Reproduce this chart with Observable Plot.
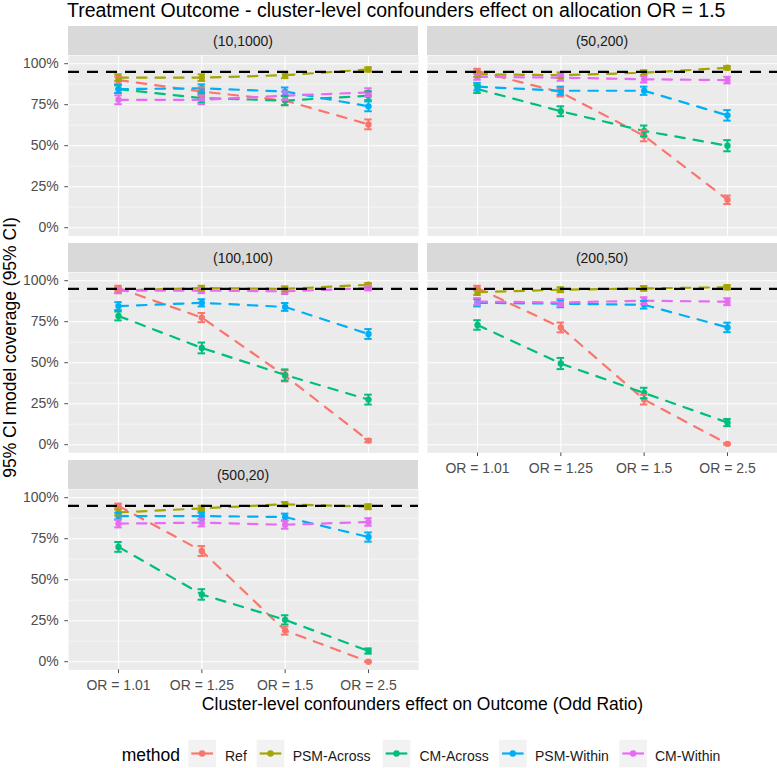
<!DOCTYPE html>
<html><head><meta charset="utf-8">
<script src="https://cdn.jsdelivr.net/npm/d3@7"></script>
<script src="https://cdn.jsdelivr.net/npm/@observablehq/plot@0.6"></script>
<style>
body{margin:0;background:#fff;}
#root{position:relative;width:777px;height:768px;overflow:hidden;font-family:"Liberation Sans",Arial,sans-serif;}
#root svg{position:absolute;overflow:visible;}
</style></head><body><div id="root"></div>
<script>
// ---- data ----
const categories = ["OR = 1.01", "OR = 1.25", "OR = 1.5", "OR = 2.5"];
const methods = ["Ref", "PSM-Across", "CM-Across", "PSM-Within", "CM-Within"];
const colors = ["#F8766D", "#A3A500", "#00BF7D", "#00B0F6", "#E76BF3"];
const panels = ["(10,1000)", "(50,200)", "(100,100)", "(200,50)", "(500,20)"];
const yBreaks = [0, 0.25, 0.5, 0.75, 1];
const yMinor = [0.125, 0.375, 0.625, 0.875];
const refLine = 0.95;

// coverage, rows = methods (Ref, PSM-Across, CM-Across, PSM-Within, CM-Within), cols = categories
const cov10_1000 = [
  [0.90, 0.83, 0.775, 0.63],
  [0.915, 0.915, 0.93, 0.965],
  [0.845, 0.79, 0.775, 0.805],
  [0.845, 0.85, 0.83, 0.74],
  [0.78, 0.78, 0.805, 0.825]
];
const cov50_200 = [
  [0.955, 0.825, 0.56, 0.17],
  [0.935, 0.93, 0.945, 0.975],
  [0.845, 0.71, 0.59, 0.50],
  [0.86, 0.835, 0.835, 0.685],
  [0.92, 0.915, 0.905, 0.90]
];
const cov100_100 = [
  [0.955, 0.775, 0.42, 0.025],
  [0.94, 0.955, 0.95, 0.975],
  [0.785, 0.59, 0.425, 0.275],
  [0.845, 0.865, 0.84, 0.675],
  [0.94, 0.94, 0.935, 0.955]
];
const cov200_50 = [
  [0.955, 0.715, 0.275, 0.005],
  [0.93, 0.945, 0.953, 0.96],
  [0.73, 0.495, 0.315, 0.135],
  [0.865, 0.86, 0.853, 0.715],
  [0.873, 0.867, 0.878, 0.872]
];
const cov500_20 = [
  [0.95, 0.675, 0.19, 0.0],
  [0.91, 0.935, 0.96, 0.945],
  [0.70, 0.41, 0.255, 0.065],
  [0.888, 0.888, 0.882, 0.76],
  [0.842, 0.848, 0.835, 0.852]
];
// 95% CI half-widths
const err10_1000 = [
  [0.022, 0.025, 0.028, 0.03],
  [0.02, 0.02, 0.018, 0.013],
  [0.024, 0.027, 0.028, 0.027],
  [0.024, 0.024, 0.025, 0.03],
  [0.027, 0.027, 0.026, 0.025]
];
const err50_200 = [
  [0.014, 0.025, 0.033, 0.026],
  [0.016, 0.017, 0.015, 0.011],
  [0.024, 0.03, 0.033, 0.034],
  [0.023, 0.025, 0.025, 0.032],
  [0.018, 0.019, 0.02, 0.02]
];
const err100_100 = [
  [0.014, 0.028, 0.034, 0.01],
  [0.016, 0.014, 0.015, 0.011],
  [0.027, 0.033, 0.034, 0.03],
  [0.024, 0.022, 0.024, 0.03],
  [0.016, 0.016, 0.016, 0.014]
];
const err200_50 = [
  [0.014, 0.03, 0.03, 0.005],
  [0.017, 0.015, 0.014, 0.013],
  [0.029, 0.034, 0.032, 0.022],
  [0.022, 0.022, 0.023, 0.029],
  [0.021, 0.022, 0.021, 0.021]
];
const err500_20 = [
  [0.014, 0.03, 0.025, 0.0],
  [0.018, 0.016, 0.013, 0.015],
  [0.03, 0.032, 0.028, 0.016],
  [0.02, 0.02, 0.021, 0.028],
  [0.023, 0.023, 0.024, 0.023]
];
const coverage = [cov10_1000, cov50_200, cov100_100, cov200_50, cov500_20];
const errors = [err10_1000, err50_200, err100_100, err200_50, err500_20];

// ---- layout ----
const PW = 350, PH = 180.4, STRIP = 29;
const colLeft = [68, 427];
const rowTop = [55, 272, 489];
const capHalf = 0.045;
const root = document.getElementById("root");
const NS = "http://www.w3.org/2000/svg";

// overlay svg (title, strips, axis titles, legend)
const ov = document.createElementNS(NS, "svg");
ov.setAttribute("width", 777); ov.setAttribute("height", 768);
ov.style.left = "0px"; ov.style.top = "0px";
root.appendChild(ov);
function el(tag, attrs, text) {
  const e = document.createElementNS(NS, tag);
  for (const k in attrs) e.setAttribute(k, attrs[k]);
  if (text != null) e.textContent = text;
  ov.appendChild(e);
  return e;
}
el("text", {x: 67, y: 17, "font-size": 19.5, fill: "#000"}, "Treatment Outcome - cluster-level confounders effect on allocation OR = 1.5");

panels.forEach((p, k) => {
  const col = k % 2, row = Math.floor(k / 2);
  const x0 = colLeft[col], y0 = rowTop[row];
  el("rect", {x: x0, y: y0 - STRIP, width: PW, height: STRIP, fill: "#D9D9D9"});
  el("text", {x: x0 + PW / 2, y: y0 - STRIP / 2, "font-size": 14, fill: "#1A1A1A", "text-anchor": "middle", "dominant-baseline": "central"}, p);

  const rows = [];
  methods.forEach((m, mi) => categories.forEach((c, ci) => rows.push({method: m, i: ci, v: coverage[k][mi][ci], e: errors[k][mi][ci]})));
  const withY = col === 0;
  const withX = (row === 2) || (row === 1 && col === 1);
  const marks = [
    Plot.frame({fill: "#EBEBEB", stroke: "none"}),
    Plot.ruleY(yMinor, {stroke: "white", strokeWidth: 0.55}),
    Plot.ruleY(yBreaks, {stroke: "white", strokeWidth: 1.1}),
    Plot.ruleX(d3.range(categories.length), {stroke: "white", strokeWidth: 1.1}),
    Plot.line(rows, {x: "i", y: "v", z: "method", stroke: "method", strokeWidth: 2.2, strokeDasharray: "9.5,9"}),
    Plot.dot(rows, {x: "i", y: "v", fill: "method", r: 3.2}),
    Plot.ruleX(rows, {x: "i", y1: d => d.v - d.e, y2: d => d.v + d.e, stroke: "method", strokeWidth: 2}),
    Plot.ruleY(rows, {y: d => d.v - d.e, x1: d => d.i - capHalf, x2: d => d.i + capHalf, stroke: "method", strokeWidth: 2}),
    Plot.ruleY(rows, {y: d => d.v + d.e, x1: d => d.i - capHalf, x2: d => d.i + capHalf, stroke: "method", strokeWidth: 2}),
    Plot.ruleY([refLine], {stroke: "black", strokeWidth: 2.4, strokeDasharray: "11,8"})
  ];
  if (withY) marks.push(Plot.axisY({ticks: yBreaks, tickFormat: d3.format(".0%"), tickSize: 3.7, tickPadding: 6, fontSize: 14, color: "#4D4D4D", label: null}));
  if (withX) marks.push(Plot.axisX({ticks: d3.range(categories.length), tickFormat: i => categories[i], tickSize: 3.7, tickPadding: 6, fontSize: 14, color: "#4D4D4D", label: null}));
  const mb = withX ? 30 : 0;
  const ml = withY ? x0 : 0;
  const chart = Plot.plot({
    width: ml + PW, height: PH + mb,
    marginLeft: ml, marginRight: 0, marginTop: 0, marginBottom: mb,
    x: {type: "linear", domain: [-0.6, categories.length - 1 + 0.6], ...(withX ? {} : {axis: null})},
    y: {domain: [-0.05, 1.05], ...(withY ? {} : {axis: null})},
    color: {domain: methods, range: colors},
    style: {background: "transparent", overflow: "visible", fontFamily: "Liberation Sans, Arial, sans-serif"},
    marks
  });
  chart.style.position = "absolute";
  chart.style.left = (x0 - ml) + "px";
  chart.style.top = y0 + "px";
  root.appendChild(chart);
});

// axis titles
el("text", {x: 422.5, y: 709.5, "font-size": 17.5, fill: "#000", "text-anchor": "middle"}, "Cluster-level confounders effect on Outcome (Odd Ratio)");
el("text", {transform: "translate(15.5,347.5) rotate(-90)", "font-size": 17.5, fill: "#000", "text-anchor": "middle"}, "95% CI model coverage (95% CI)");

// legend
el("text", {x: 121.7, y: 761.3, "font-size": 17.5, fill: "#000"}, "method");
const keyX = [188.3, 256.7, 382.7, 499, 619.3];
const labX = [225, 292.7, 419.5, 535, 655];
methods.forEach((m, i) => {
  el("rect", {x: keyX[i], y: 739.7, width: 27.6, height: 27.6, fill: "#F2F2F2"});
  el("line", {x1: keyX[i] + 3, x2: keyX[i] + 24.6, y1: 753.5, y2: 753.5, stroke: colors[i], "stroke-width": 2.2});
  el("circle", {cx: keyX[i] + 13.8, cy: 753.5, r: 3.2, fill: colors[i]});
  el("text", {x: labX[i], y: 760.7, "font-size": 14, fill: "#1A1A1A"}, m);
});
</script></body></html>
